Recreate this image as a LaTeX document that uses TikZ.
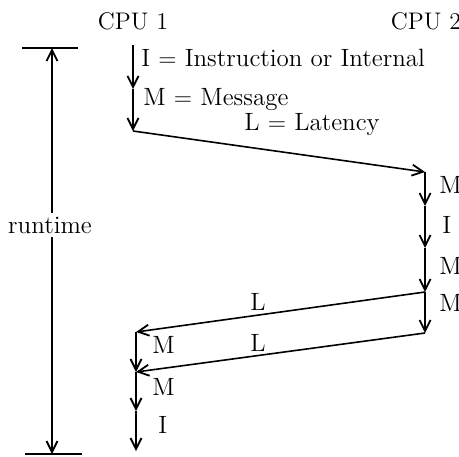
\documentclass[tikz,border=0pt]{standalone}
\usetikzlibrary{arrows.meta}
\begin{document}
\begin{tikzpicture}[x=0.5pt,y=-0.5pt,
  every node/.style={font=\fontsize{12.5}{15}\selectfont, inner sep=1pt},
  tip/.style={-{Straight Barb[length=5.5pt,width=5.5pt,line width=0.9pt]}},
  evt/.style={line width=0.9pt, tip},
  msg/.style={line width=0.8pt, tip},
  bar/.style={line width=0.9pt},
  lbl/.style={anchor=west}]
\useasboundingbox (0,0) rectangle (459,456);
% headers
\node[font=\fontsize{12}{14}\selectfont] (cpu1) at (133,21) {CPU 1};
\node[font=\fontsize{12}{14}\selectfont] (cpu2) at (426,21) {CPU 2};
% event points CPU1 (top)
\coordinate (a0) at (133,45);
\coordinate (a1) at (133,89);
\coordinate (a2) at (133,131);
% CPU2
\coordinate (b0) at (425,172);
\coordinate (b1) at (425,206);
\coordinate (b2) at (425,248);
\coordinate (b3) at (425,292);
\coordinate (b4) at (425,333);
% CPU1 (bottom)
\coordinate (c0) at (136,332);
\coordinate (c1) at (136,372);
\coordinate (c2) at (136,411);
\coordinate (c3) at (136,451);
% arrows
\draw[evt] (a0) -- (a1);
\draw[evt] (a1) -- (a2);
\draw[msg] (a2) -- (b0);
\draw[evt] (b0) -- (b1);
\draw[evt] (b1) -- (b2);
\draw[evt] (b2) -- (b3);
\draw[evt] (b3) -- (b4);
\draw[msg] (b3) -- (c0);
\draw[msg] (b4) -- (c1);
\draw[evt] (c0) -- (c1);
\draw[evt] (c1) -- (c2);
\draw[evt] (c2) -- (c3);
% labels
\node[lbl] (li) at (139,58) {I $=$ Instruction or Internal};
\node[lbl] (lm) at (141,100) {M $=$ Message};
\node[lbl] (ll) at (242,125) {L $=$ Latency};
\node[lbl] (m1) at (437,185) {M};
\node[lbl] (i1) at (440,225) {I};
\node[lbl] (m2) at (437,266) {M};
\node[lbl] (m3) at (437,303) {M};
\node (l1) at (258,302) {L};
\node (l2) at (258,343) {L};
\node[lbl] (m4) at (150,345) {M};
\node[lbl] (m5) at (150,387) {M};
\node[lbl] (i2) at (156,425) {I};
% runtime
\coordinate (r0) at (52,48);
\coordinate (r1) at (52,454);
\coordinate (t0l) at (22,48);
\coordinate (t0r) at (78,48);
\coordinate (t1l) at (25,454);
\coordinate (t1r) at (82,454);
\draw[bar] (t0l) -- (t0r);
\draw[bar] (t1l) -- (t1r);
\draw[line width=0.9pt, {Straight Barb[length=5.5pt,width=5.5pt,line width=0.9pt]}-{Straight Barb[length=5.5pt,width=5.5pt,line width=0.9pt]}] (r0) -- (r1);
\node[fill=white, inner sep=2pt] (rt) at (50,225) {runtime};
\end{tikzpicture}
\end{document}
